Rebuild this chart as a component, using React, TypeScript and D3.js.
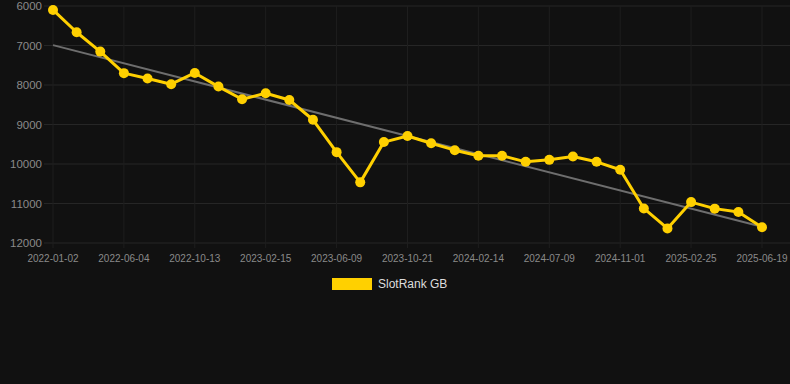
import React, { useEffect } from 'react';
import * as d3 from 'd3';

// category dates (only every third one is labelled on the axis)
const dates = [
  '2022-01-02', '2022-02-22', '2022-04-14',
  '2022-06-04', '2022-07-18', '2022-08-31',
  '2022-10-13', '2022-11-23', '2023-01-04',
  '2023-02-15', '2023-03-24', '2023-05-01',
  '2023-06-09', '2023-07-24', '2023-09-07',
  '2023-10-21', '2023-11-29', '2024-01-07',
  '2024-02-14', '2024-04-03', '2024-05-22',
  '2024-07-09', '2024-08-16', '2024-09-24',
  '2024-11-01', '2024-12-10', '2025-01-18',
  '2025-02-25', '2025-04-03', '2025-05-11',
  '2025-06-19',
];

const rankGB = [
  6100, 6665, 7155, 7700, 7835, 7980, 7695, 8040, 8360, 8210, 8380, 8880,
  9700, 10465, 9445, 9290, 9475, 9650, 9790, 9790, 9945, 9895, 9810, 9945,
  10145, 11125, 11630, 10965, 11130, 11215, 11600,
];

// trend line end values
const trend = [6990, 11590];

const yTicks = [6000, 7000, 8000, 9000, 10000, 11000, 12000];

const W = 790;
const H = 384;
const margin = { top: 6, right: 0, bottom: 141, left: 44 };

const App = () => {
  useEffect(() => {
    document.body.style.margin = '0';
    document.body.style.background = '#111111';
  }, []);

  const x = d3
    .scalePoint<string>()
    .domain(dates)
    .range([53, 762]);

  const y = d3
    .scaleLinear()
    .domain([6000, 12000])
    .range([margin.top, H - margin.bottom]);

  const labelDates = dates.filter((_, i) => i % 3 === 0);

  const line = d3
    .line<number>()
    .x((_, i) => x(dates[i]) as number)
    .y((d) => y(d));

  const first = dates[0];
  const last = dates[dates.length - 1];

  return (
    <svg width={W} height={H} style={{ display: 'block', background: '#111111' }}>
      <rect x={0} y={0} width={W} height={H} fill="#111111" />

      {/* horizontal grid */}
      {yTicks.map((t) => (
        <line
          key={'h' + t}
          x1={margin.left}
          x2={W}
          y1={y(t)}
          y2={y(t)}
          stroke="#262626"
          strokeWidth={1}
        />
      ))}

      {/* vertical grid */}
      {labelDates.map((d) => (
        <line
          key={'v' + d}
          x1={x(d)}
          x2={x(d)}
          y1={margin.top}
          y2={y(12000) + 5}
          stroke="#1e1e1e"
          strokeWidth={1}
        />
      ))}

      {/* y tick labels */}
      {yTicks.map((t) => (
        <text
          key={'yl' + t}
          x={42}
          y={y(t)}
          dy="0.35em"
          textAnchor="end"
          fontFamily="Liberation Sans, Arial, sans-serif"
          fontSize={11.5}
          fill="#8a8a8a"
        >
          {t}
        </text>
      ))}

      {/* x tick labels */}
      {labelDates.map((d) => (
        <text
          key={'xl' + d}
          x={x(d)}
          y={262}
          textAnchor="middle"
          fontFamily="Liberation Sans, Arial, sans-serif"
          fontSize={10}
          fill="#8a8a8a"
        >
          {d}
        </text>
      ))}

      {/* trend line */}
      <line
        x1={x(first)}
        x2={x(last)}
        y1={y(trend[0])}
        y2={y(trend[1])}
        stroke="#6e6e6e"
        strokeWidth={2}
      />

      {/* series */}
      <path d={line(rankGB) || ''} fill="none" stroke="#FFD000" strokeWidth={3} strokeLinejoin="round" />
      {rankGB.map((v, i) => (
        <circle key={'c' + i} cx={x(dates[i])} cy={y(v)} r={5} fill="#FFD000" />
      ))}

      {/* legend */}
      <rect x={332} y={278} width={40} height={12} fill="#FFD000" />
      <text
        x={378}
        y={284}
        dy="0.35em"
        fontFamily="Liberation Sans, Arial, sans-serif"
        fontSize={12}
        fill="#dddddd"
      >
        SlotRank GB
      </text>
    </svg>
  );
};

export default App;
